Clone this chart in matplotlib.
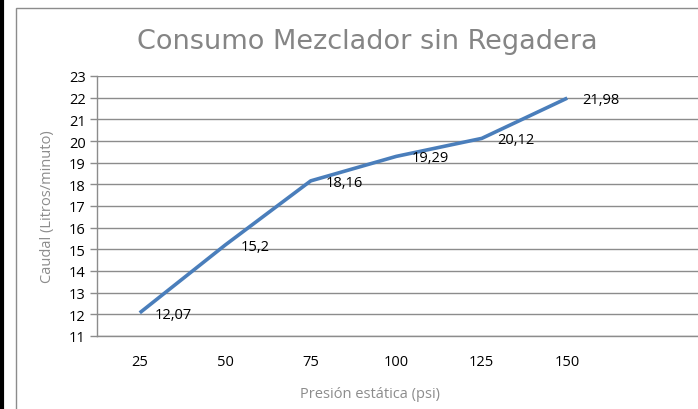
#!/usr/bin/env python3
import matplotlib
matplotlib.use("Agg")
import matplotlib.pyplot as plt
from matplotlib.patches import Rectangle
from matplotlib.lines import Line2D

# data
presion = ["25", "50", "75", "100", "125", "150"]
caudal = [12.07, 15.2, 18.16, 19.29, 20.12, 21.98]
etiquetas = ["12,07", "15,2", "18,16", "19,29", "20,12", "21,98"]
y_ticks = list(range(11, 24))

W, H = 698, 410
fig = plt.figure(figsize=(W / 100, H / 100), dpi=100)
fig.patch.set_facecolor("white")

# chart frame (cropped screenshot: frame runs past right/bottom edge)
fig.patches.append(Rectangle((16 / W, -0.1), 1.2, 1 - 9 / H + 0.1,
                             transform=fig.transFigure, fill=False,
                             edgecolor="#8c8c8c", linewidth=1.0))
fig.lines.append(Line2D([1.5 / W, 1.5 / W], [0, 1], transform=fig.transFigure,
                        color="black", linewidth=3))

left, right = 97 / W, 1.0
bottom, top = 1 - 337 / H, 1 - 77 / H
ax = fig.add_axes([left, bottom, right - left, top - bottom])

xs = list(range(len(presion)))
ax.plot(xs, caudal, color="#4a7ebb", linewidth=2.6, solid_capstyle="butt",
        zorder=3)
for x, y, t in zip(xs, caudal, etiquetas):
    ax.annotate(t, (x, y), xytext=(11, -1), textcoords="offset points",
                ha="left", va="center", fontsize=10.5, family="Open Sans",
                color="black")

step = 85.5
ax.set_xlim(-0.5, -0.5 + (W - 97) / step)
ax.set_ylim(11, 23)
ax.set_xticks(xs)
ax.set_xticklabels(presion, family="Open Sans", fontsize=10.5)
ax.set_yticks(y_ticks)
ax.set_yticklabels([str(v) for v in y_ticks], family="Open Sans", fontsize=10.5)
ax.tick_params(axis="x", length=0, pad=13)
ax.tick_params(axis="y", length=5, width=1, color="#8c8c8c", pad=3)

ax.grid(axis="y", color="#8c8c8c", linewidth=1.0)
ax.set_axisbelow(True)
for s in ["top", "right"]:
    ax.spines[s].set_visible(False)
for s in ["left", "bottom"]:
    ax.spines[s].set_color("#8c8c8c")
    ax.spines[s].set_linewidth(1.0)

fig.text(367 / W, 1 - 42 / H, "Consumo Mezclador sin Regadera",
         ha="center", va="center", fontsize=19.5, color="#858585",
         family="DejaVu Sans")
fig.text(48 / W, 1 - 207 / H, "Caudal (Litros/minuto)", rotation=90,
         ha="center", va="center", fontsize=10.5, color="#8c8c8c",
         family="Open Sans")
fig.text(370 / W, 1 - 395 / H, "Presión estática (psi)",
         ha="center", va="center", fontsize=10.5, color="#8c8c8c",
         family="Open Sans")

fig.savefig("out.png", dpi=100)
